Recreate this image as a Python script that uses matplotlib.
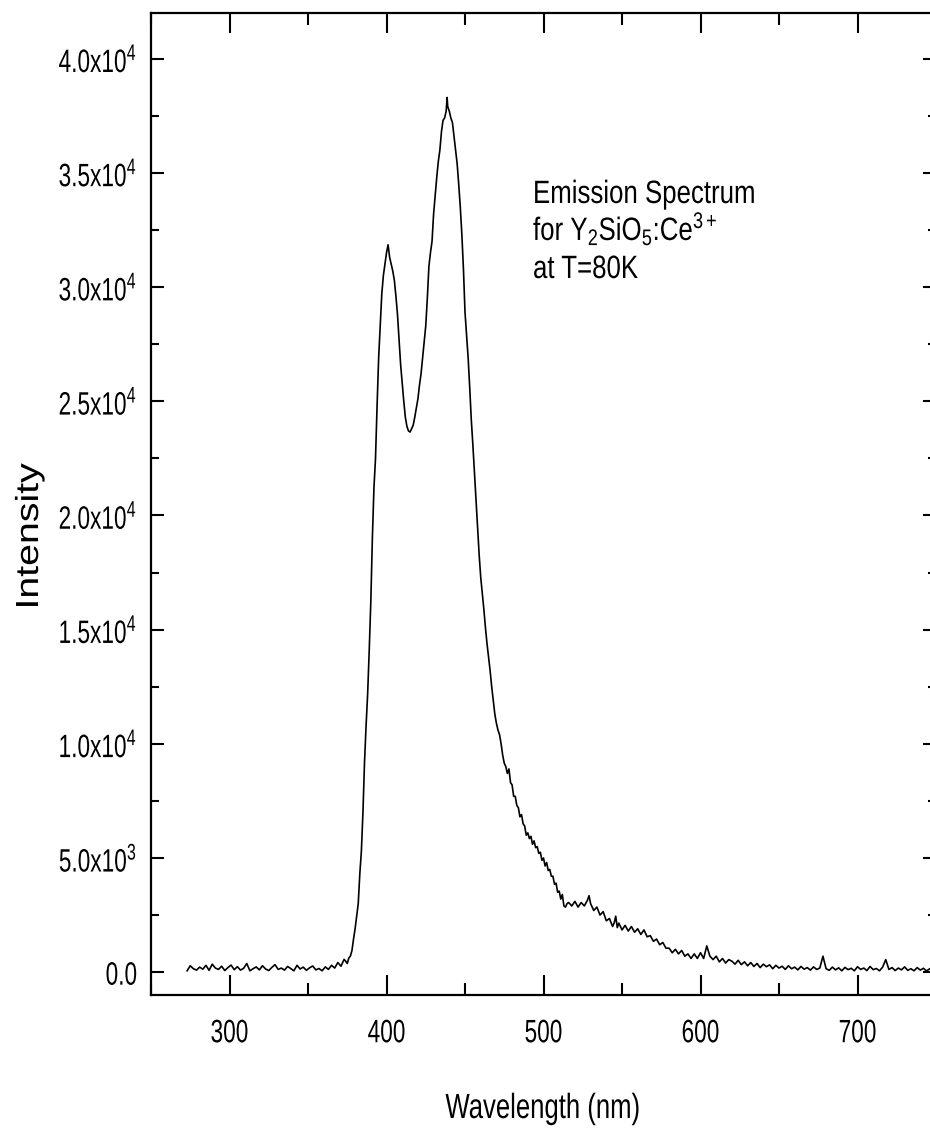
import matplotlib
matplotlib.use("Agg")
import matplotlib.pyplot as plt
from matplotlib import font_manager
from matplotlib.ticker import MultipleLocator, FixedLocator, FixedFormatter
from matplotlib.patheffects import AbstractPathEffect
from matplotlib.transforms import Affine2D

# ---------------- data ----------------
wavelength_nm = [
    273, 275, 277, 279, 281, 283, 285, 287, 289, 291, 293, 295, 297, 299, 301, 303, 305, 307, 309, 311,
    313, 315, 317, 319, 321, 323, 325, 327, 329, 331, 333, 335, 337, 339, 341, 343, 345, 347, 349, 351,
    353, 355, 357, 359, 361, 363, 365, 367, 369, 371, 373,
    374, 375, 376, 377, 378, 379, 380, 381, 382, 383, 384, 385, 386, 387, 388, 389, 390, 391, 392, 393,
    394, 395, 396, 397, 398, 399, 400, 401, 402, 403, 404, 405, 406, 407, 408, 409, 410, 411, 412, 413,
    414, 415, 416, 417, 418, 419, 420, 421, 422, 423, 424, 425, 426, 427, 428, 429, 430, 431, 432, 433,
    434, 435, 436, 437, 438, 438.6, 439, 440, 441, 442, 443, 444, 445, 446, 447, 448, 449, 450, 451, 452,
    453, 454, 455, 456, 457, 458, 459, 460, 461, 462, 463, 464, 465, 466, 467, 468, 469, 470, 471, 472,
    473, 474, 475, 476, 477, 478, 479, 480, 481, 482, 483, 484, 485, 486, 487, 488, 489, 490, 491, 492,
    493, 494, 495, 496, 497, 498, 499, 500, 501, 502, 503, 504, 505, 506, 507, 508, 509, 510, 511, 512,
    513, 514, 515,
    516, 518, 520, 522, 524, 526, 528, 529, 530, 532, 534, 536, 538, 540, 542, 544, 545, 546, 547, 548,
    550, 552, 554, 556, 558, 560, 562, 564, 566, 568, 570, 572, 574, 576, 578, 580, 582, 584, 586, 588,
    590, 592, 594, 596, 598, 600, 602, 604, 606, 608, 610, 612, 614, 616, 618, 620, 622, 624, 626, 628,
    630, 632, 634, 636, 638, 640, 642, 644, 646, 648, 650, 652, 654, 656, 658, 660, 662, 664, 666, 668,
    670, 672, 674, 676, 678, 680, 682, 684, 686, 688, 690, 692, 694, 696, 698, 700, 702, 704, 706, 708,
    710, 712, 714, 716, 718, 720, 722, 724, 726, 728, 730, 732, 734, 736, 738, 740, 742, 744, 746, 748,
    750,
]

intensity = [
    60, 280, 150, 90, 220, 130, 300, 80, 350, 180, 120, 260, 70, 200, 310, 110, 240, 90, 170, 380,
    60, 150, 230, 100, 280, 140, 70, 210, 330, 120, 180, 90, 250, 160, 60, 300, 140, 220, 80, 190,
    270, 100, 160, 60, 230, 120, 300, 180, 420, 260, 560,
    480, 380, 620, 700, 950, 1450, 1900, 2450, 3000, 4300, 5300, 7000, 9200, 10800, 12200, 14100, 16200, 19000, 21200, 22500,
    24800, 26900, 28300, 29700, 30500, 31000, 31500, 31850, 31300, 31000, 30700, 30300, 29600, 28800, 27700, 26600, 25800, 25000, 24300, 23900,
    23700, 23650, 23800, 23950, 24300, 24700, 25100, 25700, 26200, 26900, 27600, 28300, 29500, 30900, 31500, 32000, 33200, 34000, 34800, 35500,
    36000, 36800, 37300, 37400, 37700, 38300, 37900, 37700, 37400, 37200, 36600, 36000, 35400, 34500, 33500, 32300, 30800, 28900, 27900, 26900,
    25600, 24200, 23100, 21900, 20700, 19500, 18300, 17300, 16600, 15900, 15100, 14400, 13800, 13200, 12500, 11900, 11300, 10900, 10600, 10400,
    10000, 9500, 9150, 9000, 8700, 8900, 8300, 8200, 7700, 7700, 7300, 7200, 6800, 6900, 6500, 6400, 6000, 6100, 5850, 5950,
    5600, 5750, 5450, 5500, 5200, 5250, 4900, 5000, 4650, 4800, 4450, 4500, 4200, 4200, 3850, 3900, 3500, 3550, 3200, 3400,
    2900, 2850, 3000,
    3050, 2900, 3100, 2850, 3050, 2900, 3150, 3350, 3000, 2700, 2850, 2500, 2650, 2250, 2350, 2000, 2150, 2450, 1950, 2150,
    1850, 2050, 1800, 2000, 1750, 1900, 1650, 1850, 1550, 1600, 1350, 1450, 1200, 1300, 1050, 1050, 850, 1000, 800, 950,
    700, 800, 600, 800, 600, 850, 600, 1150, 700, 550, 700, 450, 600, 400, 550, 480, 350, 520, 330, 450,
    280, 420, 250, 380, 200, 350, 240, 320, 150, 300, 180, 260, 120, 280, 150, 220, 100, 250, 130, 200,
    90, 230, 120, 180, 700, 150, 80, 220, 100, 190, 60, 210, 110, 170, 60, 240, 120, 180, 70, 250,
    110, 160, 60, 220, 550, 120, 200, 70, 180, 100, 230, 80, 150, 60, 200, 90, 170, 50, 150, 80,
    120,
]

x_limits = (250, 750)
y_limits = (-1000, 42000)
x_major_ticks = [300, 400, 500, 600, 700]
x_tick_labels = ["300", "400", "500", "600", "700"]
y_major_ticks = [0, 5000, 10000, 15000, 20000, 25000, 30000, 35000, 40000]
y_tick_labels = [
    "0.0",
    r"$\mathregular{5.0x10^3}$",
    r"$\mathregular{1.0x10^4}$",
    r"$\mathregular{1.5x10^4}$",
    r"$\mathregular{2.0x10^4}$",
    r"$\mathregular{2.5x10^4}$",
    r"$\mathregular{3.0x10^4}$",
    r"$\mathregular{3.5x10^4}$",
    r"$\mathregular{4.0x10^4}$",
]
x_label = "Wavelength (nm)"
y_label = "Intensity"
annotation_lines = [
    "Emission Spectrum",
    r"for Y$_\mathregular{2}$SiO$_\mathregular{5}$:Ce$^\mathregular{3+}$",
    "at T=80K",
]

# ---------------- style ----------------
names = {f.name for f in font_manager.fontManager.ttflist}
fam = "Liberation Sans Narrow" if "Liberation Sans Narrow" in names else "Liberation Sans"
plt.rcParams["font.family"] = [fam, "DejaVu Sans"]
plt.rcParams["mathtext.fontset"] = "custom"
plt.rcParams["mathtext.rm"] = fam
plt.rcParams["mathtext.it"] = fam
plt.rcParams["mathtext.bf"] = fam


class Stretch(AbstractPathEffect):
    """Draw text glyphs stretched (tall & narrow, as in the reference)."""

    def __init__(self, sx=1.0, sy=1.0, anchor="left", ay=0.0):
        super().__init__()
        self.sx, self.sy, self.anchor, self.ay = sx, sy, anchor, ay

    def draw_path(self, renderer, gc, tpath, affine, rgbFace=None):
        ext = tpath.get_extents()
        if self.anchor == "right":
            ax_ = ext.x1
        elif self.anchor == "center":
            ax_ = 0.5 * (ext.x0 + ext.x1)
        else:
            ax_ = 0.0
        ay_ = self.ay
        st = (Affine2D().translate(-ax_, -ay_).scale(self.sx, self.sy)
              .translate(ax_, ay_))
        renderer.draw_path(gc, tpath, st + affine, rgbFace)


W, H = 930, 1135
fig = plt.figure(figsize=(W / 100, H / 100), dpi=100)
left, right, top, bottom = 151, 936, 13, 995
ax = fig.add_axes([left / W, 1 - bottom / H, (right - left) / W, (bottom - top) / H])

ax.plot(wavelength_nm, intensity, color="black", lw=1.2)

ax.set_xlim(*x_limits)
ax.set_ylim(*y_limits)
ax.xaxis.set_major_locator(FixedLocator(x_major_ticks))
ax.xaxis.set_major_formatter(FixedFormatter(x_tick_labels))
ax.xaxis.set_minor_locator(MultipleLocator(50))
ax.yaxis.set_major_locator(FixedLocator(y_major_ticks))
ax.yaxis.set_major_formatter(FixedFormatter(y_tick_labels))
ax.yaxis.set_minor_locator(MultipleLocator(2500))

for s in ax.spines.values():
    s.set_linewidth(1.6)

ax.tick_params(which="both", direction="in", top=True, right=True, width=1.5,
               labelsize=16.3, colors="black")
ax.tick_params(axis="x", which="major", length=14.4, pad=16)
ax.tick_params(axis="x", which="minor", length=8.5)
ax.tick_params(axis="y", which="major", length=9.4, pad=10)
ax.tick_params(axis="y", which="minor", length=5.8)

for t in ax.xaxis.get_major_ticks(len(x_major_ticks)):
    t.label1.set_path_effects([Stretch(1.0, 1.43, "center", 72)])
for t in ax.yaxis.get_major_ticks(len(y_major_ticks)):
    t.label1.set_path_effects([Stretch(1.0, 1.43, "right", 36)])

fig.text(543 / W, 1 - 1118 / H, x_label, fontsize=18.5, ha="center", va="baseline",
         path_effects=[Stretch(1.0, 1.36, "center", 0)])
fig.text(30 / W, 1 - 536 / H, y_label, fontsize=23, ha="center", va="center", rotation=90,
         path_effects=[Stretch(1.23, 1.0, "center", 36)])

baselines = [203, 240, 278]
for line, b in zip(annotation_lines, baselines):
    fig.text(533 / W, 1 - b / H, line, fontsize=18.6, ha="left", va="baseline",
             path_effects=[Stretch(1.0, 1.25, "left", 0)])

fig.savefig("out.png", dpi=100)
